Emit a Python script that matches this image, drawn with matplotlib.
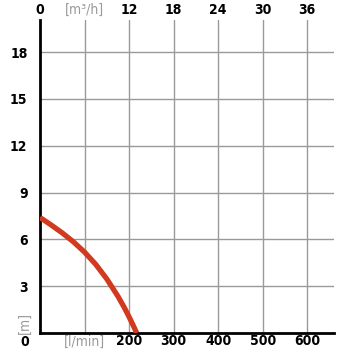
import matplotlib
matplotlib.use("Agg")
import matplotlib.pyplot as plt

# pump curve: flow [l/min] vs head [m]
flow = [0, 25, 50, 75, 100, 125, 150, 175, 190, 200, 210, 217]
head = [7.4, 6.92, 6.41, 5.84, 5.18, 4.4, 3.46, 2.35, 1.59, 1.03, 0.44, 0.0]

x_ticks = [0, 100, 200, 300, 400, 500, 600]
x_labels = ['', '[l/min]', '200', '300', '400', '500', '600']
top_labels = ['0', '[m³/h]', '12', '18', '24', '30', '36']
y_ticks = [3, 6, 9, 12, 15, 18]
y_labels = ['3', '6', '9', '12', '15', '18']

RED = '#d23a1f'
GRID = '#9a9a9a'
UNIT = '#9a9a9a'
font = dict(family='DejaVu Sans', stretch='condensed', weight='bold', size=10)

fig = plt.figure(figsize=(3.5, 3.5), dpi=100)
ax = fig.add_axes([40 / 350, 17 / 350, 294 / 350, 313 / 350])

ax.plot(flow, head, color=RED, lw=3.8, solid_capstyle='butt',
        solid_joinstyle='round', zorder=3)

ax.set_xlim(0, 660)
ax.set_ylim(0, 20.05)
ax.set_xticks(x_ticks)
ax.set_xticklabels(x_labels, fontdict=font)
ax.set_yticks(y_ticks)
ax.set_yticklabels(y_labels, fontdict=font)
ax.tick_params(axis='x', length=0, pad=1)
ax.tick_params(axis='y', length=0, pad=9)
ax.get_xticklabels()[1].set_color(UNIT)
ax.get_xticklabels()[1].set_weight('normal')

for v in x_ticks[1:]:
    ax.axvline(v, color=GRID, lw=1, zorder=1)
for v in y_ticks:
    ax.axhline(v, color=GRID, lw=1, zorder=1)

for s in ['top', 'right']:
    ax.spines[s].set_visible(False)
ax.spines['left'].set_linewidth(2)
ax.spines['bottom'].set_linewidth(2)

top = ax.secondary_xaxis('top')
top.set_xticks(x_ticks)
top.set_xticklabels(top_labels, fontdict=font)
top.tick_params(length=0, pad=2)
top.spines['top'].set_visible(False)
top.get_xticklabels()[1].set_color(UNIT)
top.get_xticklabels()[1].set_weight('normal')

# y unit and the lone zero at bottom-left
ax.text(-15 / 294, 10 / 313, '[m]', transform=ax.transAxes, rotation=90,
        ha='center', va='center', color=UNIT, family='DejaVu Sans',
        stretch='condensed', size=10)
ax.text(-15 / 294, -9 / 313, '0', transform=ax.transAxes, ha='center',
        va='center', **font)

fig.savefig('out.png', dpi=100)
